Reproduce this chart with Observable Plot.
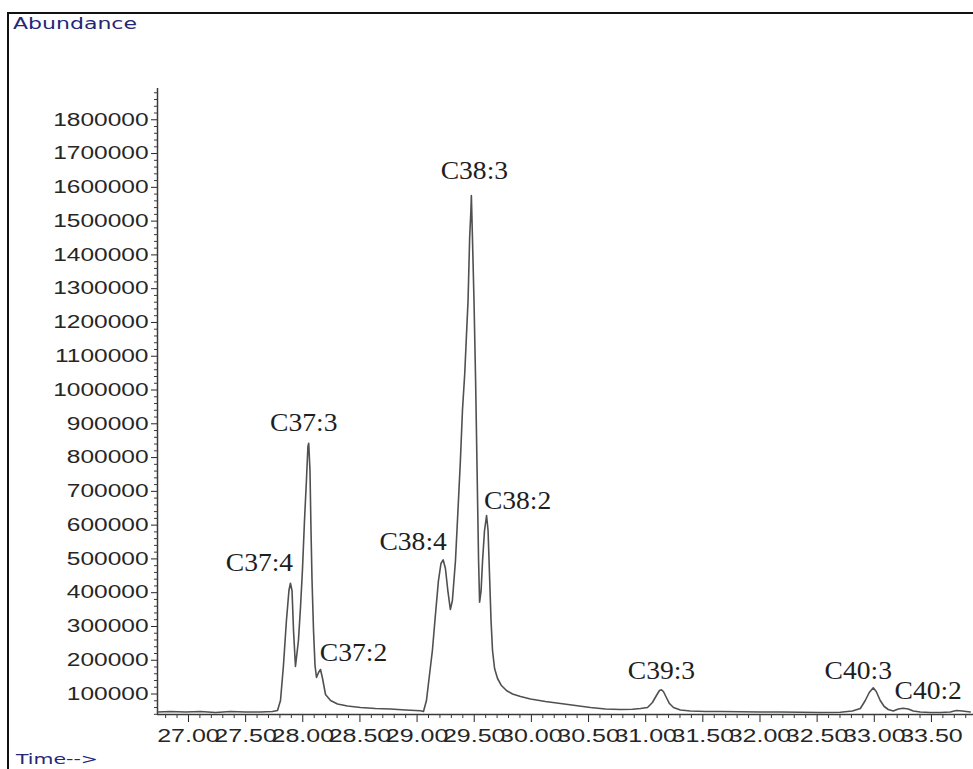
<!DOCTYPE html>
<html><head><meta charset="utf-8">
<script src="https://cdn.jsdelivr.net/npm/d3@7"></script>
<script src="https://cdn.jsdelivr.net/npm/@observablehq/plot@0.6"></script>
<style>
html,body{margin:0;padding:0;background:#fff;}
#wrap{position:relative;width:973px;height:769px;overflow:hidden;background:#fff;}
#frame{position:absolute;left:7px;top:12px;width:1000px;height:800px;border-left:2.5px solid #111;border-top:2.5px solid #111;}
#chart{position:absolute;left:0;top:0;}
.lab{position:absolute;font-family:"DejaVu Sans",sans-serif;color:#262678;transform-origin:0 50%;white-space:nowrap;line-height:1;}
</style></head><body>
<div id="wrap"><div id="frame"></div><div id="chart"></div>
<div class="lab" id="ab" style="left:13px;top:17px;font-size:15.5px;">Abundance</div>
<div class="lab" id="tm" style="left:16px;top:753px;font-size:13.5px;">Time--&gt;</div></div>
<script>
const retentionTime = [26.729,26.843,26.974,27.105,27.236,27.367,27.499,27.630,27.735,27.779,27.805,27.831,27.857,27.879,27.892,27.906,27.919,27.936,27.962,27.980,27.997,28.015,28.032,28.045,28.052,28.063,28.072,28.081,28.094,28.107,28.120,28.138,28.155,28.173,28.199,28.243,28.304,28.391,28.505,28.636,28.767,28.899,28.986,29.030,29.056,29.082,29.108,29.134,29.160,29.187,29.209,29.228,29.248,29.269,29.291,29.309,29.336,29.362,29.379,29.397,29.417,29.432,29.446,29.460,29.471,29.475,29.485,29.498,29.512,29.525,29.538,29.547,29.560,29.573,29.590,29.608,29.621,29.634,29.647,29.660,29.678,29.704,29.738,29.782,29.835,29.905,29.992,30.123,30.255,30.386,30.517,30.648,30.780,30.885,30.955,31.016,31.059,31.094,31.121,31.138,31.155,31.181,31.208,31.243,31.304,31.391,31.523,31.654,31.829,32.004,32.178,32.353,32.528,32.703,32.808,32.878,32.921,32.956,32.991,33.017,33.052,33.087,33.122,33.166,33.210,33.253,33.297,33.341,33.402,33.490,33.578,33.665,33.718,33.770,33.840];
const abundance = [46800,48300,46800,48300,45300,48300,46800,46800,48300,51200,80800,184400,317600,406400,428000,406000,288000,181500,258400,356000,465600,613700,732000,832700,842500,761700,584000,436000,288000,184400,148900,163700,172600,146000,98600,80800,70500,64500,60100,57100,55700,52700,51200,50300,48300,80800,154800,228800,332400,436000,486400,497300,471600,406400,350200,376800,495200,672900,791300,939300,1048800,1161300,1264900,1451500,1531400,1575800,1442600,1265000,1028100,761700,495200,371800,406400,495200,584000,628500,584000,450800,317600,228800,175500,146000,125200,110400,100000,92700,85300,77900,71900,66000,60100,55700,54200,54800,57100,60100,74900,95600,110400,112500,107500,89700,71900,60100,52700,49700,48300,48300,47400,46800,46800,45900,45300,46200,49700,57100,80800,104500,118400,107500,80800,63100,54200,49700,55700,58000,55700,49700,46800,45300,45300,46800,51200,49700,46800];

const peakNames = ["C37:4","C37:3","C37:2","C38:4","C38:3","C38:2","C39:3","C40:3","C40:2"];
const peakTimes = [27.892,28.052,28.155,29.228,29.475,29.608,31.138,32.991,33.253];
const peakHeights = [428000,842500,172600,497300,1575800,628500,112500,118400,58000];
const labelDx = [-31,-5,33,-30,3,31,0,-15,25];
const labelDy = [-21,-21,-17,-18,-25,-15,-19,-17,-18];

const yTickValues = [100000,200000,300000,400000,500000,600000,700000,800000,900000,1000000,1100000,1200000,1300000,1400000,1500000,1600000,1700000,1800000];
const xTickValues = [27.00,27.50,28.00,28.50,29.00,29.50,30.00,30.50,31.00,31.50,32.00,32.50,33.00,33.50];

const xDomain = [26.729, 33.868];
const yDomain = [39400, 1892600];
const yMinor = d3.range(40000, 1880001, 20000).filter(v => v % 100000 !== 0);
const xMinor = d3.range(268, 339).map(v => v / 10).filter(v => Math.round(v * 10) % 5 !== 0);

const data = retentionTime.map((t, i) => ({t, a: abundance[i]}));
const peaks = peakNames.map((name, i) => ({name, t: peakTimes[i], a: peakHeights[i]}));

const axisColor = "#3a3a3a";
const svg = Plot.plot({
  width: 973, height: 769,
  marginLeft: 157, marginRight: 0, marginTop: 88, marginBottom: 55,
  style: {background: "transparent", overflow: "visible"},
  x: {domain: xDomain, label: null},
  y: {domain: yDomain, label: null},
  marks: [
    Plot.axisY(yMinor, {tickSize: 3, text: null, color: axisColor, label: null}),
    Plot.axisY(yTickValues, {tickSize: 6, tickPadding: 3, tickFormat: d => String(d), fontSize: 18, fontFamily: "Liberation Sans", color: "#262626", label: null}),
    Plot.axisX(xMinor, {tickSize: 4, text: null, color: axisColor, label: null}),
    Plot.axisX(xTickValues, {tickSize: 8, tickPadding: 7, tickFormat: d => d.toFixed(2), fontSize: 18, fontFamily: "Liberation Sans", color: "#262626", label: null}),
    Plot.ruleX([xDomain[0]], {y1: yDomain[0], y2: yDomain[1], stroke: axisColor, strokeWidth: 1.5}),
    Plot.ruleY([yDomain[0]], {stroke: axisColor, strokeWidth: 1.5}),
    Plot.line(data, {x: "t", y: "a", stroke: "#505050", strokeWidth: 1.6}),
    ...peaks.map((p, i) => Plot.text([p], {x: "t", y: "a", text: "name", dx: labelDx[i], dy: labelDy[i], fontFamily: "Liberation Serif", fontSize: 26, fill: "#1e1e1e"}))
  ]
});
document.getElementById("chart").append(svg);

function stretch(sel, k) {
  d3.select(svg).selectAll(sel).each(function() {
    const w = this.getComputedTextLength();
    this.setAttribute("textLength", (w * k).toFixed(1));
    this.setAttribute("lengthAdjust", "spacingAndGlyphs");
  });
}
stretch('g[aria-label="y-axis tick label"] text', 1.36);
stretch('g[aria-label="x-axis tick label"] text', 1.39);
stretch('g[aria-label="text"] text', 1.06);

function stretchHtml(id, target) {
  const el = document.getElementById(id);
  const w = el.getBoundingClientRect().width;
  el.style.transform = `scaleX(${target / w})`;
}
stretchHtml("ab", 124);
stretchHtml("tm", 82);
</script>
</body></html>
